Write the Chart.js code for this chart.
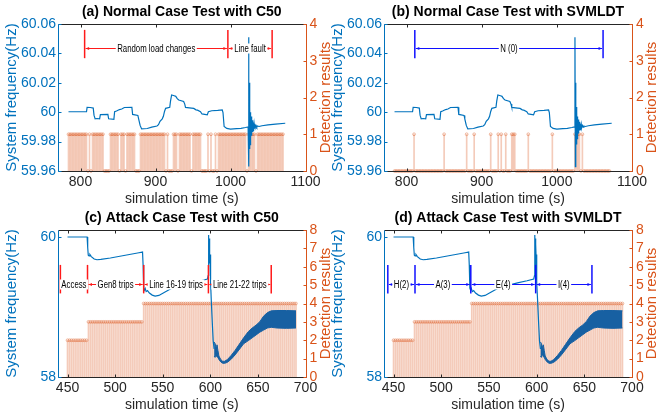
<!DOCTYPE html>
<html>
<head>
<meta charset="utf-8">
<title>Normal and attack case tests</title>
<script src="https://cdn.jsdelivr.net/npm/chart.js@4.4.1/dist/chart.umd.min.js"></script>
<style>
  html, body { margin: 0; padding: 0; background: #fff; }
  body { position: relative; width: 656px; height: 420px; overflow: hidden; }
  canvas { position: absolute; }
</style>
</head>
<body>
<canvas id="chartA" width="340" height="214" style="left:0;top:0"></canvas>
<canvas id="chartB" width="330" height="214" style="left:326px;top:0"></canvas>
<canvas id="chartC" width="340" height="214" style="left:0;top:206px"></canvas>
<canvas id="chartD" width="330" height="214" style="left:326px;top:206px"></canvas>
<script>
const FONT = 'Arial, "Liberation Sans", Helvetica, sans-serif'
const BLUE = '#0072BD'
const ORANGE = '#D95319'
const GREY = '#262626'
const SWING = '#1760a2'

// tick labels
const timeTicksNormal = [800, 900, 1000, 1100]
const freqTicksNormal = [59.96, 59.98, 60, 60.02, 60.04, 60.06]
const detTicksNormal = [0, 1, 2, 3, 4]
const timeTicksAttack = [450, 500, 550, 600, 650, 700]
const freqTicksAttack = [58, 60]
const detTicksAttack = [0, 1, 2, 3, 4, 5, 6, 7, 8]

// system frequency, normal case (a) and (b)
const normalTime = [784, 808, 808.8, 813, 817, 818, 819.5, 822, 825.5, 826.5, 836.5, 837.5, 844.5, 845.5, 848, 852,
  855, 858.5, 868.5, 869.5, 876.5, 877.5, 879.5, 881.5, 889, 895, 902, 904, 906, 909, 910.5, 912, 913.5, 919, 920,
  921.5, 925, 927, 929, 931, 937.5, 939, 940, 948, 951, 954, 956, 960, 962, 969, 970.5, 975, 983, 989, 990, 991.5,
  995, 1000, 1008, 1014, 1020, 1023.5, 1024.1, 1024.6, 1025, 1025.4, 1025.8, 1026.2, 1026.6, 1027, 1027.4, 1027.8,
  1028.2, 1028.6, 1029, 1029.4, 1029.8, 1030.2, 1030.6, 1031, 1031.5, 1032, 1032.5, 1033, 1034, 1035, 1036, 1038,
  1042, 1050, 1060, 1073]
const normalFreq = [60.0003, 60.0003, 60.0033, 60.0032, 60.0028, 59.998, 59.9955, 59.9957, 59.9955, 59.9983, 59.9985,
  59.9955, 59.9952, 60.0003, 60.0008, 60.0018, 60.0022, 60.0032, 60.0033, 59.9985, 59.9978, 59.9955, 59.991, 59.9886,
  59.9889, 59.9898, 59.9906, 59.9915, 59.9938, 59.9955, 59.9972, 60.0005, 60.0026, 60.0033, 60.0075, 60.0117, 60.0112,
  60.0108, 60.0092, 60.0083, 60.0073, 60.0055, 60.0033, 60.0028, 60.0026, 60.0016, 60.0014, 60.0004, 59.9988, 59.9982,
  60.0003, 60.001, 60.0012, 60.0015, 59.9998, 59.9903, 59.989, 59.9885, 59.9888, 59.989, 59.9896, 59.99, 60.051,
  59.963, 60.02, 59.975, 60.0035, 59.978, 60.0, 59.982, 59.997, 59.984, 59.995, 59.9855, 59.9945, 59.9865, 59.9935,
  59.9875, 59.993, 59.9882, 59.9922, 59.9888, 59.9916, 59.9893, 59.991, 59.9898, 59.9906, 59.9903, 59.9908, 59.9914,
  59.9919, 59.9925]

// system frequency, attack case (c) and (d)
const attackTime = [450, 470.6, 471.2, 471.8, 472.6, 473.5, 475, 478, 481, 485, 495, 505, 515, 525, 528.8, 529.4, 530,
  530.8, 531.6, 532.6, 534, 536, 539, 542, 546, 552, 559, 570, 580, 590, 597, 597.8, 598.1, 598.4, 598.7, 599, 599.3,
  599.6, 599.9, 600.3, 601, 602, 603, 604]
const attackFreq = [60.0, 60.0, 59.85, 59.74, 59.73, 59.75, 59.72, 59.685, 59.675, 59.68, 59.70, 59.725, 59.75, 59.775,
  59.785, 59.6, 59.27, 59.24, 59.265, 59.22, 59.235, 59.2, 59.17, 59.155, 59.165, 59.21, 59.265, 59.31, 59.345, 59.375,
  59.4, 59.45, 60.03, 59.55, 59.98, 59.62, 59.9, 59.66, 59.75, 59.35, 59.1, 58.8, 58.52, 58.4]
// fast oscillation after the line trips, kept as its upper and lower envelope
const swingTime = [604, 605, 606, 607, 608, 609, 611, 613, 615, 618, 622, 626, 630, 635, 640, 644, 648, 652, 656, 660,
  664, 670, 680, 690]
const swingHigh = [58.50, 58.48, 58.42, 58.46, 58.38, 58.30, 58.25, 58.225, 58.225, 58.25, 58.31, 58.38, 58.46, 58.56,
  58.65, 58.70, 58.74, 58.79, 58.87, 58.92, 58.945, 58.95, 58.95, 58.945]
const swingLow = [58.30, 58.28, 58.33, 58.29, 58.28, 58.25, 58.215, 58.196, 58.195, 58.21, 58.255, 58.315, 58.385,
  58.475, 58.52, 58.56, 58.60, 58.64, 58.67, 58.70, 58.71, 58.70, 58.695, 58.70]

// detection results, one output every 2 s
const detStep = 2
const detStartNormal = 784
const detStartAttack = 450
const detC50Normal = [
  1, 1, 1, 1, 1, 1, 1, 1, 1, 1,  1, 1, 1, 0, 1, 0, 1, 1, 1, 1,
  1, 1, 1, 1, 0, 0, 0, 0, 1, 1,  1, 1, 1, 1, 0, 1, 1, 1, 0, 1,
  1, 1, 1, 1, 1, 0, 0, 0, 1, 1,  1, 1, 1, 1, 1, 1, 1, 1, 1, 1,
  1, 1, 1, 1, 1, 0, 1, 0, 0, 0,  1, 1, 1, 0, 1, 1, 1, 1, 1, 1,
  1, 1, 0, 1, 1, 1, 1, 1, 1, 0,  0, 0, 0, 1, 0, 1, 0, 0, 1, 0,
  1, 1, 1, 1, 1, 1, 1, 1, 1, 1,  1, 1, 1, 1, 1, 1, 1, 1, 1, 0,
  1, 1, 1, 1, 1, 0, 1, 1, 1, 1,  1, 1, 1, 1, 1, 1, 1, 1, 1, 1,
  1, 1, 1, 1]
const detSvmNormal = [
  0, 0, 0, 0, 0, 0, 0, 0, 0, 0,  0, 0, 0, 1, 0, 0, 0, 0, 0, 0,
  0, 0, 0, 0, 0, 0, 0, 0, 0, 0,  0, 0, 0, 1, 0, 0, 0, 0, 0, 0,
  0, 0, 0, 0, 0, 0, 0, 0, 1, 0,  0, 0, 0, 1, 0, 0, 0, 0, 0, 0,
  0, 0, 0, 0, 1, 0, 0, 0, 0, 1,  0, 1, 0, 0, 1, 0, 0, 0, 1, 1,
  1, 0, 0, 0, 0, 0, 0, 0, 0, 1,  0, 0, 0, 0, 0, 0, 0, 0, 0, 0,
  0, 0, 0, 0, 0, 1, 0, 0, 0, 0,  0, 0, 0, 0, 0, 0, 0, 0, 0, 0,
  1, 1, 1, 1, 0, 1, 0, 0, 0, 0,  0, 0, 0, 0, 0, 0, 0, 0, 0, 0,
  0, 0, 0, 0]
const detC50Attack = [
  2, 2, 2, 2, 2, 2, 2, 2, 2, 2,  2, 3, 3, 3, 3, 3, 3, 3, 3, 3,
  3, 3, 3, 3, 3, 3, 3, 3, 3, 3,  3, 3, 3, 3, 3, 3, 3, 3, 3, 3,
  4, 4, 4, 4, 4, 4, 4, 4, 4, 4,  4, 4, 4, 4, 4, 4, 4, 4, 4, 4,
  4, 4, 4, 4, 4, 4, 4, 4, 4, 4,  4, 4, 4, 4, 4, 4, 4, 4, 4, 4,
  4, 4, 4, 4, 4, 4, 4, 4, 4, 4,  4, 4, 4, 4, 4, 4, 4, 4, 4, 4,
  4, 4, 4, 4, 4, 4, 4, 4, 4, 4,  4, 4, 4, 4, 4, 4, 4, 4, 4, 4,
  4]
const detSvmAttack = [
  2, 2, 2, 2, 2, 2, 2, 2, 2, 2,  2, 3, 3, 3, 3, 3, 3, 3, 3, 3,
  3, 3, 3, 3, 3, 3, 3, 3, 3, 3,  3, 3, 3, 3, 3, 3, 3, 3, 3, 3,
  3, 4, 4, 4, 4, 4, 4, 4, 4, 4,  4, 4, 4, 4, 4, 4, 4, 4, 4, 4,
  4, 4, 4, 4, 4, 4, 4, 4, 4, 4,  4, 4, 4, 4, 4, 4, 4, 4, 4, 4,
  4, 4, 4, 4, 4, 4, 4, 4, 4, 4,  4, 4, 4, 4, 4, 4, 4, 4, 4, 4,
  4, 4, 4, 4, 4, 4, 4, 4, 4, 4,  4, 4, 4, 4, 4, 4, 4, 4, 4, 4,
  4]

// stage markers (simulation time) and their names
const stagesA = [805.5, 996.5, 1055.5]
const stageNamesA = ['Random load changes', 'Line fault']
const stagesB = [811, 1061.5]
const stageNamesB = ['N (0)']
const stagesC = [442.5, 471, 530, 598, 664]
const stageNamesC = ['Access', 'Gen8 trips', 'Line 16-19 trips', 'Line 21-22 trips']
const stagesD = [444, 472.5, 531, 599, 658]
const stageNamesD = ['H(2)', 'A(3)', 'E(4)', 'I(4)']

const pts = (xs, ys) => xs.map((x, i) => ({x, y: ys[i]}))

const panels = {
  chartA: {title: '(a) Normal Case Test with C50', width: 340, right: 305.5, time: normalTime, freq: normalFreq,
    xMin: 770, xMax: 1100, yMin: 59.96, yMax: 60.06, dMax: 4, xTicks: timeTicksNormal, yTicks: freqTicksNormal,
    dTicks: detTicksNormal, det: detC50Normal, detStart: detStartNormal, stages: stagesA, names: stageNamesA,
    color: '#ff1a1a', bar: [3.07, 3.84], arrow: 3.34},
  chartB: {title: '(b) Normal Case Test with SVMLDT', width: 330, right: 306, time: normalTime, freq: normalFreq,
    xMin: 770, xMax: 1100, yMin: 59.96, yMax: 60.06, dMax: 4, xTicks: timeTicksNormal, yTicks: freqTicksNormal,
    dTicks: detTicksNormal, det: detSvmNormal, detStart: detStartNormal, stages: stagesB, names: stageNamesB,
    color: '#1010ff', bar: [3.07, 3.84], arrow: 3.34},
  chartC: {title: '(c) Attack Case Test with C50', width: 340, right: 305.5, time: attackTime, freq: attackFreq,
    swing: true, xMin: 440, xMax: 700, yMin: 58, yMax: 60.1, dMax: 8, xTicks: timeTicksAttack, yTicks: freqTicksAttack,
    dTicks: detTicksAttack, det: detC50Attack, detStart: detStartAttack, stages: stagesC, names: stageNamesC,
    color: '#ff1a1a', bar: [4.55, 6.1], arrow: 5.04},
  chartD: {title: '(d) Attack Case Test with SVMLDT', width: 330, right: 306, time: attackTime, freq: attackFreq,
    swing: true, xMin: 440, xMax: 700, yMin: 58, yMax: 60.1, dMax: 8, xTicks: timeTicksAttack, yTicks: freqTicksAttack,
    dTicks: detTicksAttack, det: detSvmAttack, detStart: detStartAttack, stages: stagesD, names: stageNamesD,
    color: '#1010ff', bar: [4.55, 6.1], arrow: 5.04}
}

// stage arrows, box, inward ticks and the right-hand label
const decor = {
  id: 'decor',
  afterDatasetsDraw(chart) {
    const p = panels[chart.canvas.id]
    const {ctx, chartArea: a} = chart
    const {x, y, y2} = chart.scales
    const px = v => Math.round(v) + 0.5
    const seg = (x1, y1, x2, y2_) => { ctx.beginPath(); ctx.moveTo(x1, y1); ctx.lineTo(x2, y2_); ctx.stroke() }
    ctx.save()

    const top = y2.getPixelForValue(p.bar[1])
    const bottom = y2.getPixelForValue(p.bar[0])
    const ya = px(y2.getPixelForValue(p.arrow))
    const head = (tip, dir) => {
      ctx.beginPath()
      ctx.moveTo(tip, ya)
      ctx.lineTo(tip - dir * 3.5, ya - 1.6)
      ctx.lineTo(tip - dir * 3.5, ya + 1.6)
      ctx.closePath()
      ctx.fill()
    }
    ctx.strokeStyle = p.color
    ctx.lineWidth = 1.5
    p.stages.forEach(t => { const sx = x.getPixelForValue(t); seg(sx, top, sx, bottom) })
    ctx.lineWidth = 1
    ctx.font = '10px ' + FONT
    ctx.textAlign = 'center'
    ctx.textBaseline = 'middle'
    p.names.forEach((name, i) => {
      const x0 = x.getPixelForValue(p.stages[i]) + 1
      const x1 = x.getPixelForValue(p.stages[i + 1]) - 1
      ctx.strokeStyle = p.color
      ctx.fillStyle = p.color
      seg(x0, ya, x1, ya)
      head(x0, -1)
      head(x1, 1)
      const w = ctx.measureText(name).width * 0.78
      const xm = (x0 + x1) / 2
      ctx.fillStyle = '#fff'
      ctx.fillRect(xm - w / 2 - 1.5, ya - 5, w + 3, 10)
      ctx.fillStyle = '#000'
      ctx.fillText(name, xm, ya + 0.5, w)
    })

    // box with inward ticks
    const L = px(a.left), R = px(a.right), T = px(a.top), B = px(a.bottom)
    ctx.lineWidth = 1
    ctx.strokeStyle = GREY
    seg(L, T, R, T)
    seg(L, B, R, B)
    x.ticks.forEach(t => {
      const tx = px(x.getPixelForValue(t.value))
      seg(tx, B, tx, B - 3)
      seg(tx, T, tx, T + 3)
    })
    ctx.strokeStyle = BLUE
    seg(L, T, L, B)
    y.ticks.forEach(t => { const ty = px(y.getPixelForValue(t.value)); seg(L, ty, L + 3, ty) })
    ctx.strokeStyle = ORANGE
    seg(R, T, R, B)
    y2.ticks.forEach(t => { const ty = px(y2.getPixelForValue(t.value)); seg(R - 3, ty, R, ty) })

    ctx.font = '15px ' + FONT
    ctx.fillStyle = ORANGE
    ctx.translate(a.right + 20, (a.top + a.bottom) / 2)
    ctx.rotate(-Math.PI / 2)
    ctx.fillText('Detection results', 0, 0)
    ctx.restore()
  }
}

function drawPanel(id) {
  const p = panels[id]
  const H = 214
  const det = p.det.map((v, i) => ({x: p.detStart + i * detStep, y: v}))

  const datasets = [{
    type: 'line', data: pts(p.time, p.freq), yAxisID: 'y',
    borderColor: BLUE, borderWidth: 1.2, pointRadius: 0, tension: 0, fill: false
  }]
  if (p.swing) {
    datasets.push({type: 'line', data: pts(swingTime, swingHigh), yAxisID: 'y',
      borderColor: SWING, borderWidth: 1, pointRadius: 0, fill: false})
    datasets.push({type: 'line', data: pts(swingTime, swingLow), yAxisID: 'y',
      borderColor: SWING, borderWidth: 1, pointRadius: 0, fill: '-1', backgroundColor: SWING})
  }
  datasets.push({type: 'scatter', data: det, yAxisID: 'y2', clip: false,
    pointRadius: 1.4, pointBorderWidth: 0.7, pointBorderColor: 'rgba(217,83,25,0.55)',
    pointBackgroundColor: 'rgba(255,255,255,0)'})
  datasets.push({type: 'bar', data: det, yAxisID: 'y2',
    backgroundColor: 'rgba(217,83,25,0.3)', barThickness: 1, borderWidth: 0})

  const fixTicks = list => scale => { scale.ticks = list.map(v => ({value: v})) }

  new Chart(document.getElementById(id), {
    type: 'line',
    data: {datasets},
    options: {
      responsive: false,
      animation: false,
      events: [],
      layout: {padding: 0},
      plugins: {
        legend: {display: false},
        tooltip: {enabled: false},
        title: {
          display: true, text: p.title, fullSize: false, color: '#000',
          font: {family: FONT, size: 14, weight: 'bold'},
          padding: {top: 3.6, bottom: 3.6}
        }
      },
      scales: {
        x: {
          type: 'linear', min: p.xMin, max: p.xMax, offset: false,
          grid: {display: false, offset: false, drawTicks: false},
          border: {display: false},
          afterBuildTicks: fixTicks(p.xTicks),
          afterFit: s => { s.height = H - 171 },
          ticks: {color: GREY, font: {family: FONT, size: 14}, padding: 3, maxRotation: 0, autoSkip: false,
            callback: v => String(v)},
          title: {display: true, text: 'simulation time (s)', color: GREY,
            font: {family: FONT, size: 14}, padding: {top: 0, bottom: 6}}
        },
        y: {
          type: 'linear', position: 'left', min: p.yMin, max: p.yMax,
          grid: {display: false, drawTicks: false},
          border: {display: false},
          afterBuildTicks: fixTicks(p.yTicks),
          afterFit: s => { s.width = 58 },
          ticks: {color: BLUE, font: {family: FONT, size: 14}, padding: 2, autoSkip: false,
            callback: v => String(Math.round(v * 100) / 100)},
          title: {display: true, text: 'System frequency(Hz)', color: BLUE,
            font: {family: FONT, size: 15}, padding: {top: 3, bottom: 0}}
        },
        y2: {
          type: 'linear', position: 'right', min: 0, max: p.dMax,
          grid: {display: false, drawTicks: false},
          border: {display: false},
          afterBuildTicks: fixTicks(p.dTicks),
          afterFit: s => { s.width = p.width - p.right },
          ticks: {color: ORANGE, font: {family: FONT, size: 14}, padding: 4, autoSkip: false,
            callback: v => String(v)}
        }
      }
    },
    plugins: [decor]
  })
}

Object.keys(panels).forEach(drawPanel)
</script>
</body>
</html>
